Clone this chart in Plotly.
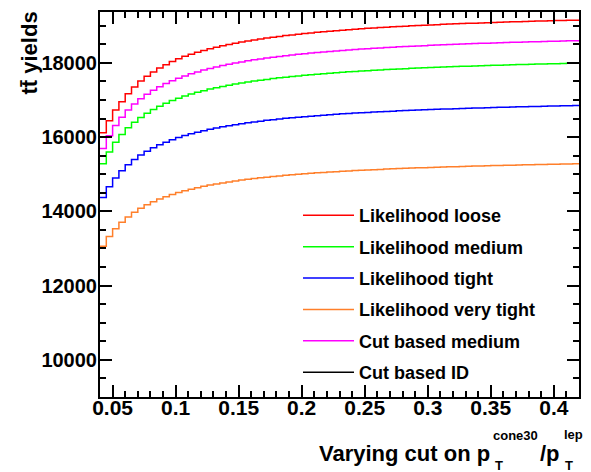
import numpy as np
import plotly.graph_objects as go

# binning of the scanned cut (x axis)
x_first_edge = 0.04
bin_width = 0.005

series_names = ["Likelihood loose", "Likelihood medium", "Likelihood tight",
                "Likelihood very tight", "Cut based medium", "Cut based ID"]
series_colors = ["#ff0000", "#00ff00", "#0000ff", "#ff7f2a", "#ff00ff", "#000000"]

likelihood_loose = [
    16120, 16440, 16730, 16950, 17170, 17350, 17510, 17640, 17755, 17860,
    17950, 18035, 18110, 18175, 18230, 18285, 18332, 18377, 18419, 18458,
    18494, 18528, 18560, 18589, 18617, 18643, 18668, 18691, 18713, 18734,
    18753, 18772, 18790, 18807, 18823, 18838, 18853, 18867, 18880, 18893,
    18905, 18917, 18929, 18940, 18950, 18960, 18970, 18979, 18988, 18997,
    19006, 19014, 19022, 19029, 19037, 19044, 19051, 19057, 19064, 19070,
    19076, 19082, 19088, 19094, 19099, 19105, 19110, 19115, 19120, 19125,
    19129, 19134, 19138, 19143, 19147, 19151]

likelihood_medium = [
    15285, 15602, 15859, 16071, 16249, 16401, 16531, 16645, 16745, 16834,
    16913, 16984, 17048, 17106, 17159, 17208, 17252, 17293, 17331, 17366,
    17399, 17429, 17458, 17484, 17509, 17533, 17555, 17576, 17596, 17614,
    17632, 17649, 17665, 17680, 17695, 17708, 17722, 17734, 17746, 17758,
    17769, 17780, 17790, 17800, 17809, 17818, 17827, 17836, 17844, 17852,
    17859, 17867, 17874, 17881, 17887, 17894, 17900, 17906, 17912, 17918,
    17923, 17929, 17934, 17939, 17944, 17949, 17953, 17958, 17962, 17967,
    17971, 17975, 17979, 17983, 17987, 17990]

likelihood_tight = [
    14376, 14666, 14900, 15094, 15257, 15396, 15515, 15619, 15711, 15792,
    15864, 15929, 15988, 16041, 16089, 16133, 16174, 16211, 16246, 16278,
    16308, 16336, 16362, 16386, 16409, 16430, 16451, 16470, 16488, 16505,
    16521, 16537, 16551, 16565, 16578, 16591, 16603, 16615, 16626, 16636,
    16647, 16656, 16666, 16675, 16683, 16692, 16700, 16707, 16715, 16722,
    16729, 16736, 16742, 16749, 16755, 16760, 16766, 16772, 16777, 16782,
    16787, 16792, 16797, 16802, 16806, 16811, 16815, 16819, 16823, 16827,
    16831, 16835, 16838, 16842, 16845, 16849]

likelihood_very_tight = [
    13061, 13320, 13531, 13705, 13851, 13975, 14083, 14176, 14258, 14331,
    14396, 14454, 14507, 14554, 14598, 14637, 14674, 14708, 14739, 14767,
    14794, 14819, 14843, 14864, 14885, 14904, 14922, 14939, 14956, 14971,
    14986, 14999, 15013, 15025, 15037, 15048, 15059, 15069, 15079, 15089,
    15098, 15107, 15115, 15123, 15131, 15138, 15146, 15153, 15159, 15166,
    15172, 15178, 15184, 15189, 15195, 15200, 15205, 15210, 15215, 15220,
    15224, 15229, 15233, 15237, 15241, 15245, 15249, 15253, 15256, 15260,
    15263, 15267, 15270, 15273, 15276, 15280]

cut_based_medium = [
    15696, 16035, 16311, 16538, 16729, 16892, 17032, 17154, 17262, 17357,
    17442, 17518, 17586, 17649, 17706, 17757, 17805, 17849, 17890, 17927,
    17962, 17995, 18026, 18054, 18081, 18106, 18130, 18152, 18174, 18194,
    18213, 18231, 18248, 18264, 18280, 18295, 18309, 18322, 18335, 18348,
    18360, 18371, 18382, 18393, 18403, 18413, 18422, 18431, 18440, 18448,
    18457, 18464, 18472, 18479, 18487, 18493, 18500, 18507, 18513, 18519,
    18525, 18531, 18536, 18542, 18547, 18552, 18557, 18562, 18567, 18572,
    18576, 18581, 18585, 18589, 18593, 18597]

cut_based_id = []  # not visible in the plotted range

all_series = [likelihood_loose, likelihood_medium, likelihood_tight,
              likelihood_very_tight, cut_based_medium, cut_based_id]

FONT = "Liberation Sans, Arial, Helvetica, sans-serif"

# plot-area geometry in pixels (for annotation placement)
W, H = 591, 472
L, R, T, B = 100, 12, 10, 75
PW, PH = W - L - R, H - T - B


def px(x):
    return (x - L) / PW


def py(y):
    return (H - B - y) / PH


fig = go.Figure()
for name, color, vals in zip(series_names, series_colors, all_series):
    if len(vals) > 0:
        n = len(vals)
        edges = x_first_edge + bin_width * np.arange(n + 1)
        yy = list(vals) + [vals[-1]]
        xx = edges
    else:
        xx, yy = [None], [None]
    fig.add_trace(go.Scatter(
        x=xx, y=yy, mode="lines", name=name, legendgroup=name,
        line=dict(color=color, width=1.5, shape="hv"),
    ))

axis_common = dict(
    showline=True, linecolor="black", linewidth=2, mirror="allticks",
    ticks="inside", ticklen=12, tickwidth=1.5, tickcolor="black",
    showgrid=False, zeroline=False,
)

fig.update_xaxes(range=[0.04, 0.42], dtick=0.05, tick0=0.05,
                 tickfont=dict(family=FONT, size=21, color="black", weight="bold"),
                 ticklabelstandoff=-9,
                 minor=dict(dtick=0.01, ticks="inside", ticklen=6,
                            tickwidth=1.5, tickcolor="black", showgrid=False),
                 **axis_common)
fig.update_yaxes(range=[9000, 19370], dtick=2000, tick0=0, tickformat="d",
                 tickfont=dict(family=FONT, size=20, color="black", weight="bold"),
                 ticklabelstandoff=-3,
                 minor=dict(dtick=500, ticks="inside", ticklen=6,
                            tickwidth=1.5, tickcolor="black", showgrid=False),
                 **axis_common)

big = dict(family=FONT, size=22, color="black", weight="bold")
small = dict(family=FONT, size=13, color="black", weight="bold")

ann = [
    dict(text="Varying cut on p", x=px(492), y=py(454), xanchor="right",
         yanchor="middle", font=big),
    dict(text="cone30", x=px(491), y=py(436), xanchor="left",
         yanchor="middle", font=small),
    dict(text="T", x=px(493), y=py(466), xanchor="left",
         yanchor="middle", font=small),
    dict(text="/p", x=px(538), y=py(454), xanchor="left",
         yanchor="middle", font=big),
    dict(text="lep", x=px(562), y=py(435), xanchor="left",
         yanchor="middle", font=small),
    dict(text="T", x=px(563), y=py(466), xanchor="left",
         yanchor="middle", font=small),
    dict(text="tt\u0304 yields", x=px(30), y=py(8), xanchor="center",
         yanchor="top", textangle=-90, font=big),
]
for a in ann:
    a.update(xref="paper", yref="paper", showarrow=False)

fig.update_layout(
    width=W, height=H,
    margin=dict(l=L, r=R, t=T, b=B),
    paper_bgcolor="white", plot_bgcolor="white",
    annotations=ann,
    legend=dict(x=px(298), y=py(196), xanchor="left", yanchor="top",
                bgcolor="rgba(0,0,0,0)", borderwidth=0,
                font=dict(family=FONT, size=18, color="black", weight="bold"),
                tracegroupgap=5, itemwidth=51),
    showlegend=True,
)

fig.write_html("out.html",
               config={"displayModeBar": False},
               post_script="document.body.style.margin='0';document.body.style.overflow='hidden';")
